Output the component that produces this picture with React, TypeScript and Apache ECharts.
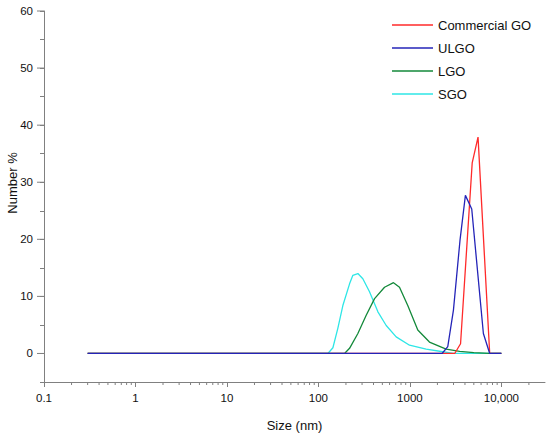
import React, { useEffect, useRef } from "react";
import * as echarts from "echarts";

// ---- data ----
const cgoSize = [0.3, 2305, 3091, 3580, 4801, 5560, 7456, 10000];
const cgoNumber = [0, 0, 0, 1.7, 33.4, 37.9, 0, 0];

const ulgoSize = [0.3, 2250, 2595, 2993, 3540, 4045, 4745, 6360, 7456, 10000];
const ulgoNumber = [0, 0, 1.2, 7.6, 20.0, 27.7, 25.3, 3.5, 0, 0];

const lgoSize = [0.3, 193, 219, 270, 333, 411, 528, 662, 770, 948, 1220, 1636, 2490, 3500, 5000, 7456, 10000];
const lgoNumber = [0, 0, 0.9, 3.5, 6.7, 9.6, 11.6, 12.4, 11.6, 8.4, 4.1, 2.0, 0.75, 0.35, 0.15, 0, 0];

const sgoSize = [0.3, 127, 144, 163, 185, 219, 238, 270, 306, 362, 447, 551, 708, 991, 1507, 2290, 3000, 10000];
const sgoNumber = [0, 0, 1.0, 4.4, 8.4, 12.2, 13.7, 14.0, 13.1, 10.8, 7.3, 4.9, 2.9, 1.45, 0.75, 0.3, 0, 0];

const seriesNames = ["Commercial GO", "ULGO", "LGO", "SGO"];
const xTickLabels: Record<number, string> = { 0.1: "0.1", 1: "1", 10: "10", 100: "100", 1000: "1000", 10000: "10,000" };
const yMajorTicks = [0, 10, 20, 30, 40, 50, 60];
const logDecades = [0.1, 1, 10, 100, 1000, 10000];
const logMultipliers = [2, 3, 4, 5, 6, 7, 8, 9];

const X_MIN = 0.1;
const X_MAX = 30000;
const Y_MIN = -5;
const Y_MAX = 60;

const zip = (xs: number[], ys: number[]) => xs.map((x, i) => [x, ys[i]]);

const FONT = "'Liberation Sans', Arial, sans-serif";
const AXIS_COLOR = "#808080";

export default function App() {
  const ref = useRef<HTMLDivElement>(null);

  useEffect(() => {
    if (!ref.current) return;
    const chart = echarts.init(ref.current, undefined, { renderer: "svg" });

    const minorTickValues: number[][] = [];
    logDecades.forEach((d) => {
      logMultipliers.forEach((m) => {
        const v = d * m;
        if (v < X_MAX) minorTickValues.push([v, Y_MIN]);
      });
    });

    const lineSeries = (name: string, xs: number[], ys: number[], color: string, z: number) => ({
      name,
      type: "line",
      data: zip(xs, ys),
      symbol: "none",
      showSymbol: false,
      lineStyle: { color, width: 1.3 },
      itemStyle: { color },
      z,
    });

    const option: any = {
      animation: false,
      backgroundColor: "#ffffff",
      grid: { left: 44, right: 5, top: 11, bottom: 53 },
      legend: {
        data: seriesNames,
        orient: "vertical",
        left: 387,
        top: 13.5,
        itemWidth: 41,
        itemHeight: 1.4,
        itemGap: 10,
        icon: "rect",
        textStyle: { fontFamily: FONT, fontSize: 13, color: "#111" },
        selectedMode: false,
      },
      xAxis: {
        type: "log",
        logBase: 10,
        min: X_MIN,
        max: X_MAX,
        name: "Size (nm)",
        nameLocation: "middle",
        nameGap: 37,
        nameTextStyle: { fontFamily: FONT, fontSize: 13, color: "#111" },
        axisLine: { show: true, onZero: false, lineStyle: { color: AXIS_COLOR, width: 1 } },
        axisTick: { show: true, length: 5, inside: false, lineStyle: { color: AXIS_COLOR } },
        splitLine: { show: false },
        axisLabel: {
          fontFamily: FONT,
          fontSize: 11.5,
          color: "#111",
          margin: 10,
          showMaxLabel: false,
          formatter: (v: number) => {
            const key = Object.keys(xTickLabels).find((k) => Math.abs(Number(k) - v) / v < 1e-6);
            return key !== undefined ? xTickLabels[Number(key)] : "";
          },
        },
      },
      yAxis: {
        type: "value",
        min: Y_MIN,
        max: Y_MAX,
        interval: 5,
        axisLine: { show: true, onZero: false, lineStyle: { color: AXIS_COLOR, width: 1 } },
        axisTick: { show: true, length: 4, inside: false, lineStyle: { color: AXIS_COLOR } },
        splitLine: { show: false },
        axisLabel: {
          fontFamily: FONT,
          fontSize: 11.5,
          color: "#111",
          margin: 11,
          formatter: (v: number) => (Math.round(v) % 10 === 0 ? String(Math.round(v)) : ""),
        },
      },
      graphic: [
        {
          type: "text",
          x: 12,
          y: 183,
          rotation: Math.PI / 2,
          style: {
            text: "Number %",
            fontFamily: FONT,
            fontSize: 13,
            fill: "#111",
            align: "center",
            verticalAlign: "middle",
          },
        },
      ],
      series: [
        lineSeries("SGO", sgoSize, sgoNumber, "#2ee6e6", 2),
        lineSeries("LGO", lgoSize, lgoNumber, "#13893a", 3),
        lineSeries("Commercial GO", cgoSize, cgoNumber, "#ff2a2a", 4),
        lineSeries("ULGO", ulgoSize, ulgoNumber, "#2424b8", 5),
        {
          name: "xMinorTicks",
          type: "custom",
          clip: false,
          silent: true,
          data: minorTickValues,
          renderItem: (params: any, api: any) => {
            const p = api.coord([api.value(0), api.value(1)]);
            return {
              type: "line",
              shape: { x1: p[0], y1: p[1], x2: p[0], y2: p[1] + 3 },
              style: { stroke: AXIS_COLOR, lineWidth: 1 },
            };
          },
        },
        {
          name: "yMajorTicks",
          type: "custom",
          clip: false,
          silent: true,
          data: yMajorTicks.map((v) => [X_MIN, v]),
          renderItem: (params: any, api: any) => {
            const p = api.coord([api.value(0), api.value(1)]);
            return {
              type: "line",
              shape: { x1: p[0] - 7, y1: p[1], x2: p[0], y2: p[1] },
              style: { stroke: AXIS_COLOR, lineWidth: 1 },
            };
          },
        },
      ],
    };

    chart.setOption(option);
    return () => chart.dispose();
  }, []);

  return <div ref={ref} style={{ position: "absolute", left: 0, top: 0, width: 550, height: 437 }} />;
}
